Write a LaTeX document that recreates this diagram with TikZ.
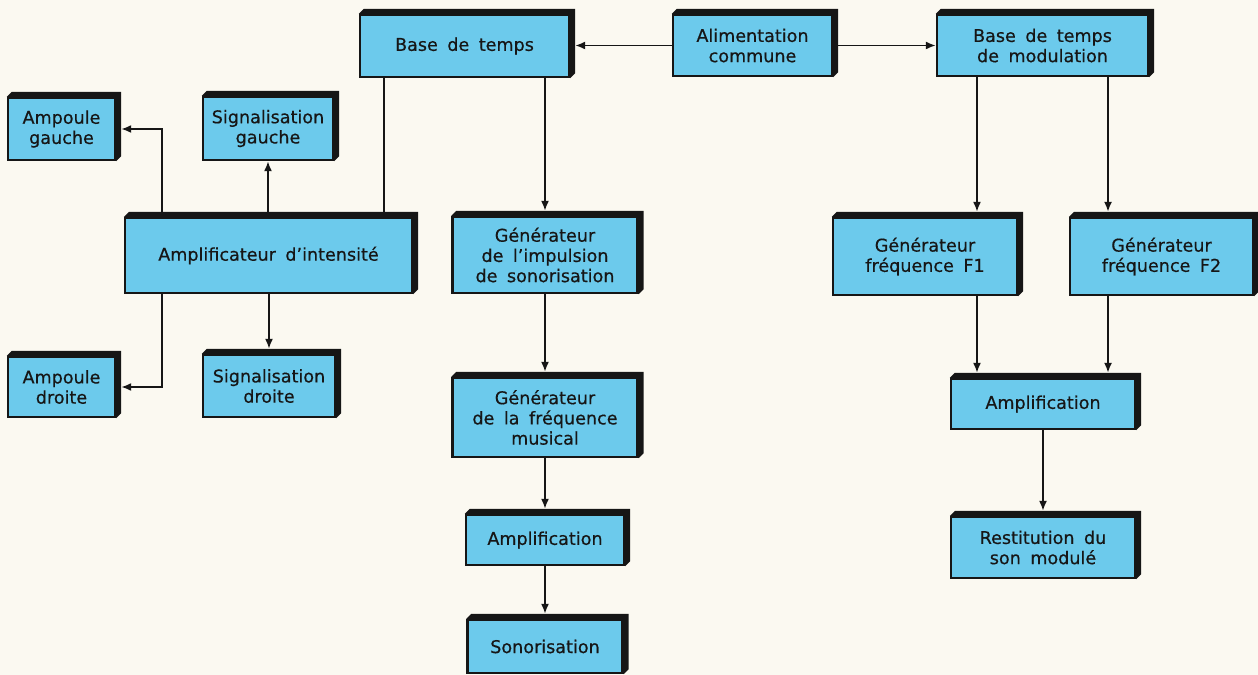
\documentclass[tikz,border=0pt]{standalone}
\usepackage{fontspec}
\newfontfamily\boxfont{DejaVu Sans}[WordSpace=1.7,FakeBold=0.5]
\usetikzlibrary{positioning,arrows.meta}
\definecolor{panelblue}{RGB}{108,202,236}
\definecolor{paper}{RGB}{251,249,241}
\definecolor{ink}{RGB}{22,22,22}

\begin{document}
\begin{tikzpicture}[x=0.02cm,y=-0.02cm,
			>={Latex[length=0.2cm,width=0.16cm]},
			every node/.style={
				draw=ink,
				line width=1.3pt,
				fill=panelblue,
				text=ink,
				inner sep=2pt,
				align=center,
				font=\boxfont\fontsize{10}{11.5}\selectfont},
			link/.style={draw=ink,line width=1.1pt}]

			\useasboundingbox (0,0) rectangle (1258,675);
			\fill[paper] (0,0) rectangle (1258,675);

			\node (bt)[minimum width=4.18cm,minimum height=1.24cm] at (464.5,46){Base de temps};

			\node (alim)[minimum width=3.18cm,minimum height=1.22cm] at (752.5,45.5){Alimentation\\commune};

			\node (btm)[minimum width=4.22cm,minimum height=1.22cm] at (1042.5,45.5){Base de temps\\de modulation};

			\node (ampi)[minimum width=5.74cm,minimum height=1.5cm] at (268.5,255.5){Amplificateur d’intensité};

			\node (ampg)[minimum width=2.14cm,minimum height=1.24cm] at (61.5,129){Ampoule\\gauche};

			\node (sigg)[minimum width=2.6cm,minimum height=1.26cm] at (268,128.5){Signalisation\\gauche};

			\node (ampd)[minimum width=2.14cm,minimum height=1.2cm] at (61.5,387){Ampoule\\droite};

			\node (sigd)[minimum width=2.64cm,minimum height=1.24cm] at (269,386){Signalisation\\droite};

			\node (gimp)[minimum width=3.7cm,minimum height=1.52cm] at (545,255){Générateur\\de l’impulsion\\de sonorisation};

			\node (gfm)[minimum width=3.7cm,minimum height=1.58cm] at (545,417.5){Générateur\\de la fréquence\\musical};

			\node (amp1)[minimum width=3.16cm,minimum height=1cm] at (545,540){Amplification};

			\node (son)[minimum width=3.1cm,minimum height=1.06cm] at (545,646.5){Sonorisation};

			\node (gf1)[minimum width=3.68cm,minimum height=1.54cm] at (925,256.5){Générateur\\fréquence F1};

			\node (gf2)[minimum width=3.66cm,minimum height=1.54cm] at (1161.5,256.5){Générateur\\fréquence F2};

			\node (amp2)[minimum width=3.68cm,minimum height=1cm] at (1043,404){Amplification};

			\node (rest)[minimum width=3.68cm,minimum height=1.22cm] at (1043,547.5){Restitution du\\son modulé};

			\foreach \n in {bt,alim,btm,ampi,ampg,sigg,ampd,sigd,gimp,gfm,amp1,son,gf1,gf2,amp2,rest}
				\fill[ink] (\n.north west) -- ++(0.1cm,0.1cm) -- ([shift={(0.1cm,0.1cm)}]\n.north east)
					-- ([shift={(0.1cm,0.1cm)}]\n.south east) -- (\n.south east) -- (\n.north east) -- cycle;

			\coordinate (btleg) at ([xshift=0.5cm]bt.south west);

			\coordinate (gimpin) at ([yshift=0.1cm]gimp.north);

			\coordinate (f1in) at ([xshift=1.04cm,yshift=0.1cm]gf1.north);

			\coordinate (f2in) at ([xshift=-1.07cm,yshift=0.1cm]gf2.north);

			\coordinate (a2top) at ([yshift=0.1cm]amp2.north);

			\draw[link,->](alim.west)--([xshift=0.1cm]bt.east |- alim.west);

			\draw[link,->](alim.east)--(btm.west |- alim.east);

			\draw[link](btleg)--(btleg |- ampi.north);

			\draw[link,->](bt.south -| gimpin)--(gimpin);

			\draw[link,->]([xshift=0.76cm]ampi.north west) |- ([xshift=0.1cm]ampg.east);

			\draw[link,->](ampi.north -| sigg.south)--(sigg.south);

			\draw[link,->]([xshift=0.76cm]ampi.south west) |- ([xshift=0.1cm]ampd.east);

			\draw[link,->](ampi.south -| sigd.north)--([yshift=0.1cm]sigd.north);

			\draw[link,->](gimp.south)--([yshift=0.1cm]gfm.north);

			\draw[link,->](gfm.south)--([yshift=0.1cm]amp1.north);

			\draw[link,->](amp1.south)--([yshift=0.1cm]son.north);

			\draw[link,->](btm.south -| f1in)--(f1in);

			\draw[link,->](btm.south -| f2in)--(f2in);

			\draw[link,->](gf1.south -| f1in)--(f1in |- a2top);

			\draw[link,->](gf2.south -| f2in)--(f2in |- a2top);

			\draw[link,->](amp2.south)--([yshift=0.1cm]rest.north);

		\end{tikzpicture}
\end{document}
